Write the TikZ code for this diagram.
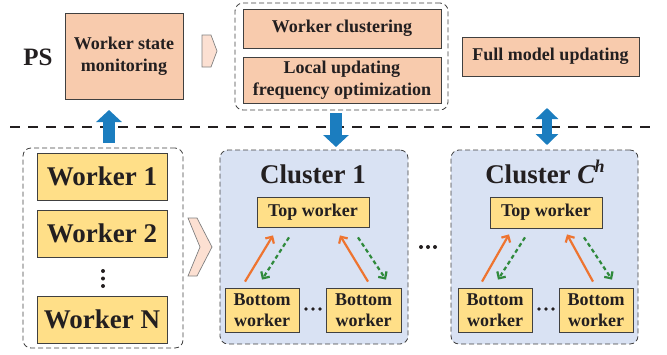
\documentclass[tikz,border=0pt]{standalone}
\usepackage{fontspec}
\setmainfont{Liberation Serif}
\usetikzlibrary{arrows.meta}

\definecolor{psfill}{HTML}{F8CBAD}
\definecolor{chevfill}{HTML}{FCE0D2}
\definecolor{wkfill}{HTML}{FFDF88}
\definecolor{clfill}{HTML}{D9E2F3}
\definecolor{bluearr}{HTML}{1B7DBF}
\definecolor{uparr}{HTML}{EE7430}
\definecolor{downarr}{HTML}{2F8A3C}
\definecolor{edge}{HTML}{404040}
\definecolor{ink}{HTML}{231F20}

\tikzset{
  box/.style={draw=edge, line width=0.8pt, text=ink, align=center, inner sep=0pt,
              font=\bfseries\fontsize{18}{22}\selectfont},
  psbox/.style={box, fill=psfill},
  wkbox/.style={box, fill=wkfill},
  bigwk/.style={wkbox, font=\bfseries\fontsize{27}{30}\selectfont},
  smallwk/.style={wkbox, font=\bfseries\fontsize{18}{21}\selectfont},
  group/.style={draw=edge, line width=0.8pt, dash pattern=on 5pt off 3pt,
                rounded corners=8pt, inner sep=0pt},
  cluster/.style={group, fill=clfill},
  chev/.style={fill=chevfill, draw=gray, line width=0.7pt},
  bigarrow/.style={draw=bluearr, line width=12pt, -{Triangle[length=12pt,width=25pt]}},
  dblarrow/.style={draw=bluearr, line width=10pt,
                   {Triangle[length=11pt,width=22pt]}-{Triangle[length=11pt,width=22pt]}},
  upload/.style={draw=uparr, line width=2.2pt, -{Straight Barb[length=5pt,width=10pt]}},
  dispatch/.style={draw=downarr, line width=2.2pt, dash pattern=on 4pt off 3pt,
                   -{Straight Barb[length=5pt,width=10pt]}},
  dotsep/.style={fill=ink},
  title/.style={text=ink, anchor=base, inner sep=0pt, font=\bfseries\fontsize{27}{30}\selectfont},
}

\begin{document}
\begin{tikzpicture}[x=1pt, y=-1pt]
\useasboundingbox (0,0) rectangle (667,354);

% ---------- parameter server side ----------
\node[title, font=\bfseries\fontsize{25}{28}\selectfont] (ps) at (38,65) {PS};
\node[psbox, minimum width=118pt, minimum height=86pt] (mon) at (124,56)
  {Worker state\\monitoring};

\filldraw[chev] (202,35) -- (211,35) -- (217,51) -- (211,67) -- (202,67) -- cycle;

\node[group, minimum width=213pt, minimum height=107pt] (psgroup) at (341.5,56.5) {};
\node[psbox, minimum width=198pt, minimum height=39pt] (clus) at (342,28.5)
  {Worker clustering};
\node[psbox, minimum width=198pt, minimum height=46pt] (freq) at (342,80)
  {Local updating\\frequency optimization};

\node[psbox, minimum width=177pt, minimum height=39pt] (full) at (550.5,56.5)
  {Full model updating};

% ---------- separator ----------
\coordinate (sepL) at (10,127);
\coordinate (sepR) at (656,127);
\draw[line width=2pt, ink, dash pattern=on 10pt off 8pt] (sepL) -- (sepR);

% ---------- workers ----------
\node[group, minimum width=160pt, minimum height=200pt] (workers) at (103,248) {};
\node[bigwk, minimum width=130pt, minimum height=47pt] (w1) at (102,176.5) {Worker 1};
\node[bigwk, minimum width=130pt, minimum height=47pt] (w2) at (102,233.5) {Worker 2};
\node[bigwk, minimum width=130pt, minimum height=47pt] (wn) at (102,319.5) {Worker N};
\foreach \yy in {271,278.5,286} \fill[dotsep] (103,\yy) circle (2pt);

\filldraw[chev] (188,218) -- (197,218) -- (212,247) -- (197,276) -- (188,276) -- (200,247) -- cycle;

% ---------- cluster 1 ----------
\node[cluster, minimum width=188pt, minimum height=194pt] (c1) at (314,247) {};
\node[title] (c1t) at (313,183) {Cluster 1};
\node[smallwk, minimum width=112pt, minimum height=30pt] (top1) at (313,212) {Top worker};
\node[smallwk, minimum width=74pt, minimum height=44pt] (b11) at (262,310) {Bottom\\worker};
\node[smallwk, minimum width=75pt, minimum height=44pt] (b12) at (363.5,310) {Bottom\\worker};
\foreach \xx in {306,313,320} \fill[dotsep] (\xx,309) circle (1.9pt);

\draw[upload]   ([xshift=-17pt,yshift=6pt]b11.north)  -- ([xshift=-40pt,yshift=-8pt]top1.south);
\draw[dispatch] ([xshift=-24pt,yshift=-10pt]top1.south) -- ([xshift=0pt,yshift=8pt]b11.north);
\draw[upload]   ([xshift=4.5pt,yshift=6pt]b12.north)  -- ([xshift=27pt,yshift=-8pt]top1.south);
\draw[dispatch] ([xshift=45pt,yshift=-10pt]top1.south)  -- ([xshift=22.5pt,yshift=8pt]b12.north);

% ---------- dots between clusters ----------
\foreach \xx in {421,428,435} \fill[dotsep] (\xx,247) circle (2pt);

% ---------- cluster C^h ----------
\node[cluster, minimum width=187pt, minimum height=194pt] (ch) at (544.5,247) {};
\node[title] (cht) at (545,183)
  {Cluster \textit{C}\kern-1pt\raisebox{0.40em}{\fontsize{18}{18}\selectfont\bfseries\itshape h}};
\node[smallwk, minimum width=112pt, minimum height=31pt] (toph) at (546,212.5) {Top worker};
\node[smallwk, minimum width=74pt, minimum height=44pt] (bh1) at (495,310) {Bottom\\worker};
\node[smallwk, minimum width=74pt, minimum height=44pt] (bh2) at (596,310) {Bottom\\worker};
\foreach \xx in {539,546,553} \fill[dotsep] (\xx,309) circle (1.9pt);

\draw[upload]   ([xshift=-13pt,yshift=6pt]bh1.north)   -- ([xshift=-37pt,yshift=-6pt]toph.south);
\draw[dispatch] ([xshift=-21pt,yshift=-9pt]toph.south) -- ([xshift=3pt,yshift=8pt]bh1.north);
\draw[upload]   ([xshift=-3pt,yshift=6pt]bh2.north)    -- ([xshift=21pt,yshift=-6pt]toph.south);
\draw[dispatch] ([xshift=38pt,yshift=-9pt]toph.south)  -- ([xshift=16pt,yshift=8pt]bh2.north);

% ---------- vertical exchanges across the separator ----------
\coordinate (upS) at (109,143);
\coordinate (upE) at (109,110);
\draw[bigarrow] (upS) -- (upE);
\coordinate (dnS) at (336,113);
\coordinate (dnE) at (336,147);
\draw[bigarrow] (dnS) -- (dnE);
\coordinate (dbS) at (547,108);
\coordinate (dbE) at (547,145);
\draw[dblarrow] (dbS) -- (dbE);
\end{tikzpicture}
\end{document}
